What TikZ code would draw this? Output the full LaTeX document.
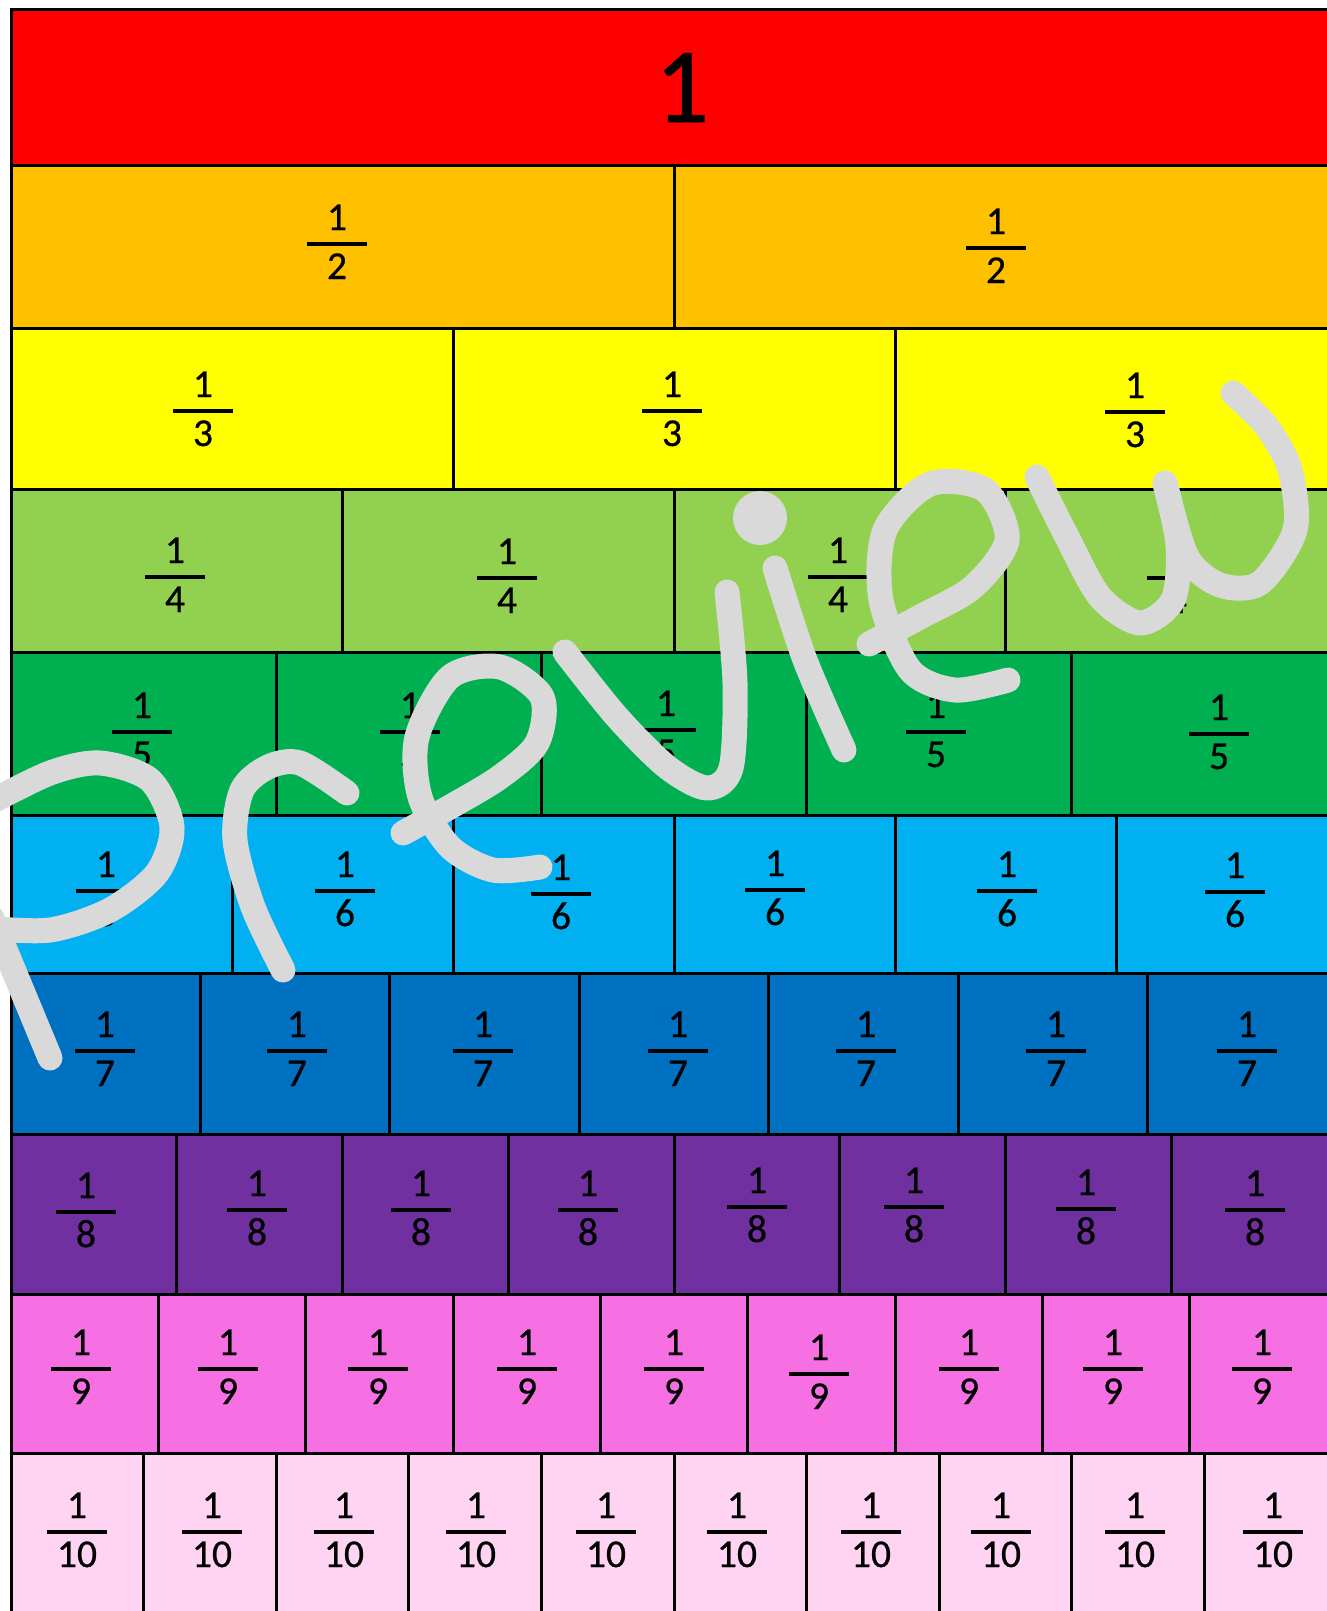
\documentclass[tikz,border=0pt]{standalone}
\usepackage{fontspec}
\setmainfont[FakeBold=0.6]{Carlito}
\newfontfamily\digitfont[FakeBold=0.6]{Carlito}
\definecolor{cA}{RGB}{255,0,0}
\definecolor{cB}{RGB}{255,192,0}
\definecolor{cC}{RGB}{255,255,0}
\definecolor{cD}{RGB}{146,208,80}
\definecolor{cE}{RGB}{0,176,80}
\definecolor{cF}{RGB}{0,176,240}
\definecolor{cG}{RGB}{0,112,192}
\definecolor{cH}{RGB}{112,48,160}
\definecolor{cI}{RGB}{246,112,228}
\definecolor{cJ}{RGB}{255,212,243}
\definecolor{wm}{RGB}{217,217,217}
\newcommand\frc[4]{%
  \node[fnum] (#1n) at (#2,#3-14) {1};
  \draw[fbar] (#2-30,#3) -- (#2+30,#3);
  \node[fden] (#1d) at (#2,#3+35) {#4};}
\begin{document}
\begin{tikzpicture}[x=1pt,y=-1pt,
  gridline/.style={line width=3pt,black},
  fbar/.style={line width=3.5pt,black},
  fnum/.style={anchor=base,inner sep=0pt,font=\digitfont\fontsize{39.5}{40}\selectfont},
  fden/.style={anchor=base,inner sep=0pt,font=\digitfont\fontsize{39.5}{40}\selectfont},
  wmark/.style={line width=25pt,wm,line cap=round,line join=round}]
\useasboundingbox (0,0) rectangle (1327,1611);
\clip (0,0) rectangle (1327,1611);
\fill[white] (0,0) rectangle (1327,1611);
% row fills
\foreach \t/\b/\c in {10/165/cA,165/328/cB,328/489/cC,489/652/cD,652/815/cE,815/973/cF,973/1134/cG,1134/1294/cH,1294/1453/cI,1453/1640/cJ}
  \fill[\c] (11,\t) rectangle (1340,\b);
% vertical dividers
\foreach \n/\t/\b in {2/165/328,3/328/489,4/489/652,5/652/815,6/815/973,7/973/1134,8/1134/1294,9/1294/1453,10/1453/1640}{
  \pgfmathtruncatemacro\m{\n-1}
  \foreach \k in {1,...,\m}
    \draw[gridline] ({11+\k*1326/\n},\t) -- ({11+\k*1326/\n},\b);
}
% horizontal lines and left edge
\foreach \y in {10,165,328,489,652,815,973,1134,1294,1453}
  \draw[gridline] (9.5,\y) -- (1340,\y);
\draw[gridline] (11,10) -- (11,1640);
% whole
\node[anchor=base,inner sep=0pt,font=\digitfont\fontsize{107}{110}\selectfont] (one) at (682,122) {1};
% fractions
\foreach \x/\y [count=\i] in {337/244,996/248} \frc{b\i}{\x}{\y}{2};
\foreach \x/\y [count=\i] in {203/411,672/411,1135/412} \frc{c\i}{\x}{\y}{3};
\foreach \x/\y [count=\i] in {175/577,507/578,838/577,1177/578} \frc{d\i}{\x}{\y}{4};
\foreach \x/\y [count=\i] in {142/732,410/732,666/730,936/732,1219/734} \frc{e\i}{\x}{\y}{5};
\foreach \x/\y [count=\i] in {106/891,345/891,561/894,775/890,1007/891,1235/892} \frc{f\i}{\x}{\y}{6};
\foreach \x/\y [count=\i] in {105/1051,297/1051,483/1051,678/1051,866/1051,1056/1051,1247/1051} \frc{g\i}{\x}{\y}{7};
\foreach \x/\y [count=\i] in {86/1212,257/1210,421/1210,588/1210,757/1207,914/1207,1086/1209,1255/1210} \frc{h\i}{\x}{\y}{8};
\foreach \x/\y [count=\i] in {81/1369,228/1369,378/1369,527/1369,674/1369,819/1374,969/1369,1113/1369,1262/1369} \frc{i\i}{\x}{\y}{9};
\foreach \x/\y [count=\i] in {77/1532,212/1532,344/1532,476/1532,606/1532,737/1532,871/1532,1001/1532,1135/1532,1273/1532} \frc{j\i}{\x}{\y}{10};
% watermark "Preview"
\draw[wmark] plot[smooth] coordinates {(-15,805) (50,773) (100,763) (150,780) (172,827) (157,873) (110,910) (50,930) (-15,928)};
\draw[wmark] (-8,918) -- (50,1058);
\draw[wmark] plot[smooth] coordinates {(283,970) (253,907) (235,840) (242,790) (268,767) (300,763) (347,793)};
\draw[wmark] plot[smooth] coordinates {(403,833) (450,807) (500,777) (537,743) (542,697) (500,667) (450,677) (417,737) (420,797) (450,847) (493,870) (540,867)};
\draw[wmark] plot[smooth] coordinates {(565,652) (617,717) (667,767) (707,788) (731,768) (735,683) (727,592)};
\draw[wmark] plot[smooth] coordinates {(775,568) (805,660) (844,750)};
\fill[wm] (760,518) circle (27);
\draw[wmark] plot[smooth] coordinates {(869,644) (920,617) (973,587) (1007,540) (985,490) (930,484) (885,530) (881,600) (910,670) (955,690) (1008,680)};
\draw[wmark] plot[smooth] coordinates {(1037,477) (1067,537) (1100,597) (1140,623) (1173,600) (1178,545) (1165,483)};
\draw[wmark] plot[smooth] coordinates {(1165,483) (1187,557) (1220,585) (1260,583) (1295,530) (1290,470) (1267,427) (1233,393)};
\end{tikzpicture}
\end{document}
